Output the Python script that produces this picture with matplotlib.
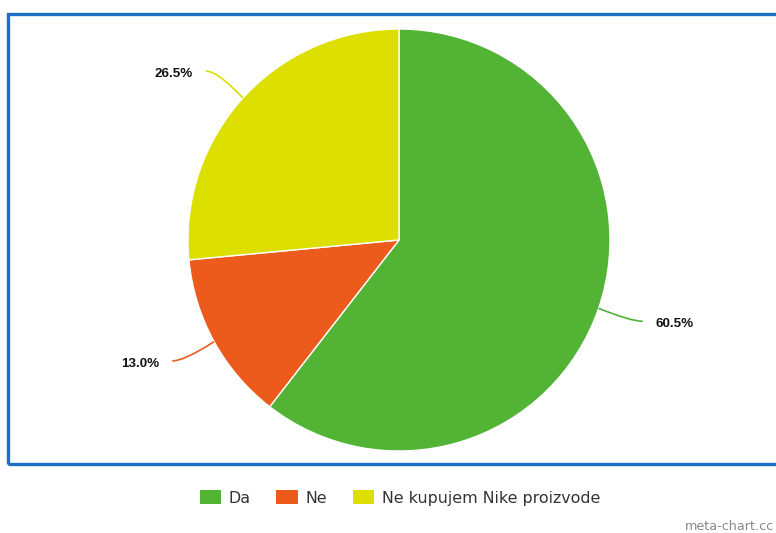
import numpy as np
import matplotlib
matplotlib.use("Agg")
import matplotlib.pyplot as plt
from matplotlib.patches import Rectangle, Patch
from matplotlib.path import Path
from matplotlib.patches import PathPatch

categories = ["Da", "Ne", "Ne kupujem Nike proizvode"]
values = [60.5, 13.0, 26.5]
labels = ["60.5%", "13.0%", "26.5%"]
colors = ["#52b335", "#ec5a1c", "#dcdf00"]

W, H = 776, 533
fig = plt.figure(figsize=(W / 100, H / 100), dpi=100)
ax = fig.add_axes([0, 0, 1, 1])
ax.set_xlim(0, W)
ax.set_ylim(0, H)
ax.axis("off")

# blue frame
ax.add_patch(Rectangle((8, H - 464), W + 20, 450, fill=False,
                       edgecolor="#1c70c4", linewidth=2.4, zorder=1))

cx, cy, R = 399, H - 240, 211
wedges, _ = ax.pie(values, colors=colors, startangle=90, counterclock=False,
                   center=(cx, cy), radius=R, frame=True,
                   wedgeprops=dict(edgecolor="white", linewidth=1.0))
ax.set_xlim(0, W)
ax.set_ylim(0, H)
ax.set_aspect("equal")
ax.axis("off")

for w, lab, col in zip(wedges, labels, colors):
    ang = np.deg2rad((w.theta1 + w.theta2) / 2)
    p0 = (cx + R * np.cos(ang), cy + R * np.sin(ang))
    p1 = (cx + (R + 34) * np.cos(ang), cy + (R + 40) * np.sin(ang))
    side = 1 if np.cos(ang) >= 0 else -1
    p2 = (p1[0] + side * 12, p1[1])
    path = Path([p0, p1, p2], [Path.MOVETO, Path.CURVE3, Path.CURVE3])
    ax.add_patch(PathPatch(path, fill=False, edgecolor=col, linewidth=1.2))
    ax.text(p2[0] + side * 13, p2[1] - 3, lab, ha="left" if side > 0 else "right",
            va="center", fontsize=9.6, fontweight="bold",
            family="Liberation Sans", color="#111111")

handles = [Patch(facecolor=c, edgecolor="none") for c in colors]
fig.legend(handles, categories, loc="center", bbox_to_anchor=(400 / W, 1 - 498 / H),
           ncol=3, frameon=False, handlelength=1.35, handleheight=1.0,
           handletextpad=0.5, columnspacing=1.6,
           prop=dict(family="DejaVu Sans", size=11.4), labelcolor="#333333")

ax.text(774, H - 527, "meta-chart.cc", ha="right", va="center", fontsize=9.2,
        color="#888888", family="DejaVu Sans")

fig.savefig("out.png", dpi=100)
